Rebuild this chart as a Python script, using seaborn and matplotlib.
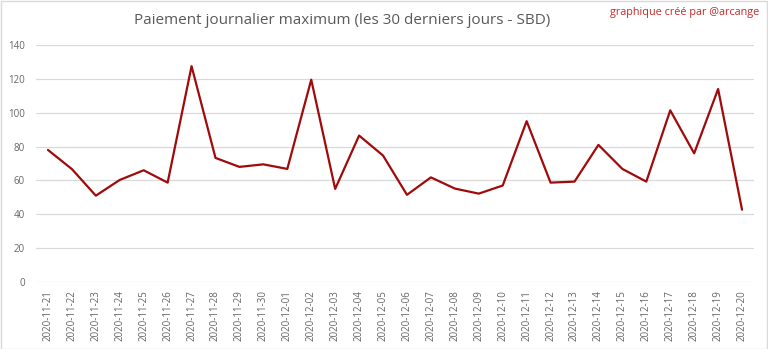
import matplotlib
matplotlib.use("Agg")
import matplotlib.pyplot as plt
from matplotlib.patches import Rectangle
import seaborn as sns
import pandas as pd

dates = [
    "2020-11-21", "2020-11-22", "2020-11-23", "2020-11-24", "2020-11-25",
    "2020-11-26", "2020-11-27", "2020-11-28", "2020-11-29", "2020-11-30",
    "2020-12-01", "2020-12-02", "2020-12-03", "2020-12-04", "2020-12-05",
    "2020-12-06", "2020-12-07", "2020-12-08", "2020-12-09", "2020-12-10",
    "2020-12-11", "2020-12-12", "2020-12-13", "2020-12-14", "2020-12-15",
    "2020-12-16", "2020-12-17", "2020-12-18", "2020-12-19", "2020-12-20",
]
max_payout = [
    78.0, 66.7, 51.0, 60.3, 66.0, 58.7, 127.5, 73.3, 68.0, 69.5,
    66.8, 119.5, 55.0, 86.5, 74.7, 51.5, 61.8, 55.2, 52.2, 57.0,
    95.0, 58.7, 59.3, 81.0, 66.8, 59.3, 101.4, 76.0, 114.0, 42.7,
]
y_ticks = [0, 20, 40, 60, 80, 100, 120, 140]

title = "Paiement journalier maximum (les 30 derniers jours - SBD)"
credit = "graphique créé par @arcange"

sns.set_theme(style="white")
plt.rcParams["font.family"] = ["Open Sans", "DejaVu Sans"]

df = pd.DataFrame({"date": dates, "sbd": max_payout})

fig = plt.figure(figsize=(7.68, 3.49), dpi=100)
W, H = 768, 349
ax = fig.add_axes([36 / W, (H - 282) / H, (754 - 36) / W, (282 - 45) / H])

sns.lineplot(data=df, x="date", y="sbd", ax=ax, color="#a00a0a",
             linewidth=1.6, sort=False)

ax.set_xlim(-0.5, len(dates) - 0.5)
ax.set_ylim(0, 140)
ax.set_yticks(y_ticks)
ax.set_yticklabels([str(t) for t in y_ticks])
ax.set_xticks(range(len(dates)))
ax.set_xticklabels(dates, rotation=90)
ax.set_xlabel("")
ax.set_ylabel("")

for t in y_ticks:
    ax.axhline(t, color="#d9d9d9", linewidth=0.9, zorder=0)
for s in ax.spines.values():
    s.set_visible(False)

ax.tick_params(axis="y", length=0, pad=8, labelsize=7, labelcolor="#666666")
ax.tick_params(axis="x", length=0, pad=6, labelsize=7, labelcolor="#666666")

fig.text(342 / W, 1 - 20 / H, title, ha="center", va="center",
         fontsize=11, color="#595959")
fig.text(759 / W, 1 - 13 / H, credit, ha="right", va="center",
         fontsize=7.8, color="#c62828")

fig.patches.append(Rectangle((0.5 / W, 0.5 / H), 1 - 1.5 / W, 1 - 1.5 / H,
                             transform=fig.transFigure, fill=False,
                             edgecolor="#d9d9d9", linewidth=1))

fig.savefig("out.png", dpi=100)
